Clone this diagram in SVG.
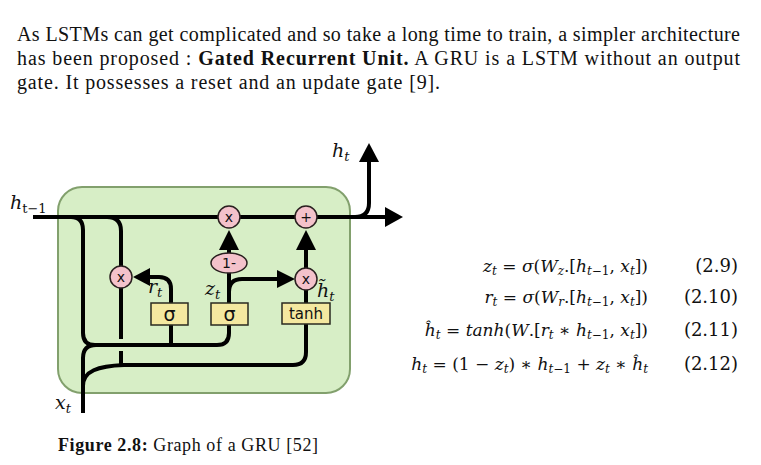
<svg xmlns="http://www.w3.org/2000/svg" width="761" height="465" viewBox="0 0 761 465">
<style>
.para{font-family:"Liberation Serif","DejaVu Serif",serif;font-size:20px;fill:#111}
.cap{font-family:"Liberation Serif","DejaVu Serif",serif;font-size:18px;fill:#111}
.math{font-family:"DejaVu Serif","Liberation Serif",serif;font-size:17px;fill:#111}
.num{font-family:"DejaVu Serif","Liberation Serif",serif;font-size:18px;fill:#111;text-anchor:end}
.it{font-style:italic}
.sub{font-size:12px}
.lbl{font-family:"DejaVu Serif","Liberation Serif",serif;font-style:italic;font-size:19px;fill:#111}
.lsub{font-size:13px}
.op{fill:#f4c2cb;stroke:#2a2020;stroke-width:1.5}
.gate{fill:#f4e8a0;stroke:#2a2a20;stroke-width:1.5}
.sym{font-family:"DejaVu Sans","Liberation Sans",sans-serif;font-size:14px;fill:#111;text-anchor:middle}
.sig{font-family:"DejaVu Sans","Liberation Sans",sans-serif;font-size:19px;fill:#111;text-anchor:middle}
.tnh{font-family:"DejaVu Sans","Liberation Sans",sans-serif;font-size:15px;fill:#111;text-anchor:middle}
.w{fill:none;stroke:#000;stroke-width:4}
.ah{fill:#000}
</style>

<g id="paragraph">
<text class="para" x="17" y="41" textLength="723" lengthAdjust="spacing">As LSTMs can get complicated and so take a long time to train, a simpler architecture</text>
<text class="para" x="17" y="65" textLength="723" lengthAdjust="spacing">has been proposed :  <tspan font-weight="bold">Gated Recurrent Unit.</tspan>  A GRU is a LSTM without an output</text>
<text class="para" x="17" y="89" textLength="423" lengthAdjust="spacing">gate. It possesses a reset and an update gate [9].</text>
</g>

<g id="cell">
<rect x="58" y="187" width="292" height="206" rx="24" ry="24" fill="#d7eec6" stroke="#82a06d" stroke-width="2"/>
</g>

<g id="connectors">
<path class="w" d="M33,217 H386"/>
<polygon class="ah" points="385,207 403,217 385,227"/>
<path class="w" d="M355,217 Q369,217 369,203 V161"/>
<polygon class="ah" points="359,162 369,143 379,162"/>
<path class="w" d="M71,217 Q83,217 83,230 V333 Q83,345 95,345 H217 Q229,345 229,333 V324"/>
<path class="w" d="M171,324 V345"/>
<path class="w" d="M171,303 V289 Q171,277 159,277 H149"/>
<polygon class="ah" points="150,268 133,277 150,286"/>
<path class="w" d="M107,217 Q121,217 121,231 V266"/>
<path class="w" d="M121,288 V339"/>
<path class="w" d="M121,351 V366"/>
<path class="w" d="M83,413 V358 Q83,345 96,345"/>
<path class="w" d="M83,386 C83,371 98,366 124,365 H293 Q306,365 306,352 V324"/>
<path class="w" d="M229,303 V272"/>
<path class="w" d="M229,254 V249"/>
<polygon class="ah" points="219,250 229,230 239,250"/>
<path class="w" d="M229,292 Q229,279 242,279 H278"/>
<polygon class="ah" points="277,270 295,279 277,288"/>
<path class="w" d="M306,303 V290"/>
<path class="w" d="M306,268 V249"/>
<polygon class="ah" points="296,250 306,230 316,250"/>
</g>

<g id="mul-top">
<circle class="op" cx="229" cy="217" r="11"/>
<text class="sym" x="229" y="222">x</text>
</g>
<g id="add-top">
<circle class="op" cx="306" cy="217" r="11"/>
<text class="sym" x="306" y="222">+</text>
</g>
<g id="mul-reset">
<circle class="op" cx="121" cy="277" r="11"/>
<text class="sym" x="121" y="282">x</text>
</g>
<g id="mul-cand">
<circle class="op" cx="306" cy="279" r="11"/>
<text class="sym" x="306" y="284">x</text>
</g>
<g id="one-minus">
<ellipse class="op" cx="229" cy="263" rx="18" ry="10"/>
<text class="sym" x="229" y="268">1-</text>
</g>
<g id="sigma-r">
<rect class="gate" x="151" y="303" width="37" height="22"/>
<text class="sig" x="169.5" y="321">σ</text>
</g>
<g id="sigma-z">
<rect class="gate" x="211" y="303" width="37" height="22"/>
<text class="sig" x="229.5" y="321">σ</text>
</g>
<g id="tanh">
<rect class="gate" x="282" y="303" width="48" height="21"/>
<text class="tnh" x="306" y="318.5">tanh</text>
</g>

<g id="labels">
<text class="lbl" x="10" y="209">h<tspan class="lsub" font-style="normal" dy="4">t−1</tspan></text>
<text class="lbl" x="332" y="157">h<tspan class="lsub" dy="4">t</tspan></text>
<text class="lbl" x="55" y="409">x<tspan class="lsub" dy="4">t</tspan></text>
<text class="lbl" x="148" y="293">r<tspan class="lsub" dy="4">t</tspan></text>
<text class="lbl" x="205" y="295">z<tspan class="lsub" dy="4">t</tspan></text>
<text class="lbl" x="317" y="297">h̃<tspan class="lsub" dy="4">t</tspan></text>
</g>

<g id="equations">
<text class="math" x="648" y="272" text-anchor="end"><tspan class="it">z</tspan><tspan class="sub it" dy="3">t</tspan><tspan dy="-3"> = </tspan><tspan class="it">σ</tspan>(<tspan class="it">W</tspan><tspan class="sub it" dy="3">z</tspan><tspan dy="-3">.[</tspan><tspan class="it">h</tspan><tspan class="sub" dy="3"><tspan class="it">t</tspan>−1</tspan><tspan dy="-3">, </tspan><tspan class="it">x</tspan><tspan class="sub it" dy="3">t</tspan><tspan dy="-3">])</tspan></text>
<text class="math" x="648" y="303" text-anchor="end"><tspan class="it">r</tspan><tspan class="sub it" dy="3">t</tspan><tspan dy="-3"> = </tspan><tspan class="it">σ</tspan>(<tspan class="it">W</tspan><tspan class="sub it" dy="3">r</tspan><tspan dy="-3">.[</tspan><tspan class="it">h</tspan><tspan class="sub" dy="3"><tspan class="it">t</tspan>−1</tspan><tspan dy="-3">, </tspan><tspan class="it">x</tspan><tspan class="sub it" dy="3">t</tspan><tspan dy="-3">])</tspan></text>
<text class="math" x="648" y="336" text-anchor="end"><tspan class="it">ĥ</tspan><tspan class="sub it" dy="3">t</tspan><tspan dy="-3"> = </tspan><tspan class="it">tanh</tspan>(<tspan class="it">W</tspan>.[<tspan class="it">r</tspan><tspan class="sub it" dy="3">t</tspan><tspan dy="-3"> ∗ </tspan><tspan class="it">h</tspan><tspan class="sub" dy="3"><tspan class="it">t</tspan>−1</tspan><tspan dy="-3">, </tspan><tspan class="it">x</tspan><tspan class="sub it" dy="3">t</tspan><tspan dy="-3">])</tspan></text>
<text class="math" x="648" y="370" text-anchor="end"><tspan class="it">h</tspan><tspan class="sub it" dy="3">t</tspan><tspan dy="-3"> = (1 − </tspan><tspan class="it">z</tspan><tspan class="sub it" dy="3">t</tspan><tspan dy="-3">) ∗ </tspan><tspan class="it">h</tspan><tspan class="sub" dy="3"><tspan class="it">t</tspan>−1</tspan><tspan dy="-3"> + </tspan><tspan class="it">z</tspan><tspan class="sub it" dy="3">t</tspan><tspan dy="-3"> ∗ </tspan><tspan class="it">ĥ</tspan><tspan class="sub it" dy="3">t</tspan></text>
<text class="num" x="738" y="272">(2.9)</text>
<text class="num" x="738" y="303">(2.10)</text>
<text class="num" x="738" y="336">(2.11)</text>
<text class="num" x="738" y="370">(2.12)</text>
</g>

<g id="caption">
<text class="cap" x="58" y="451" textLength="260" lengthAdjust="spacing"><tspan font-weight="bold">Figure 2.8:</tspan> Graph of a GRU [52]</text>
</g>
</svg>
